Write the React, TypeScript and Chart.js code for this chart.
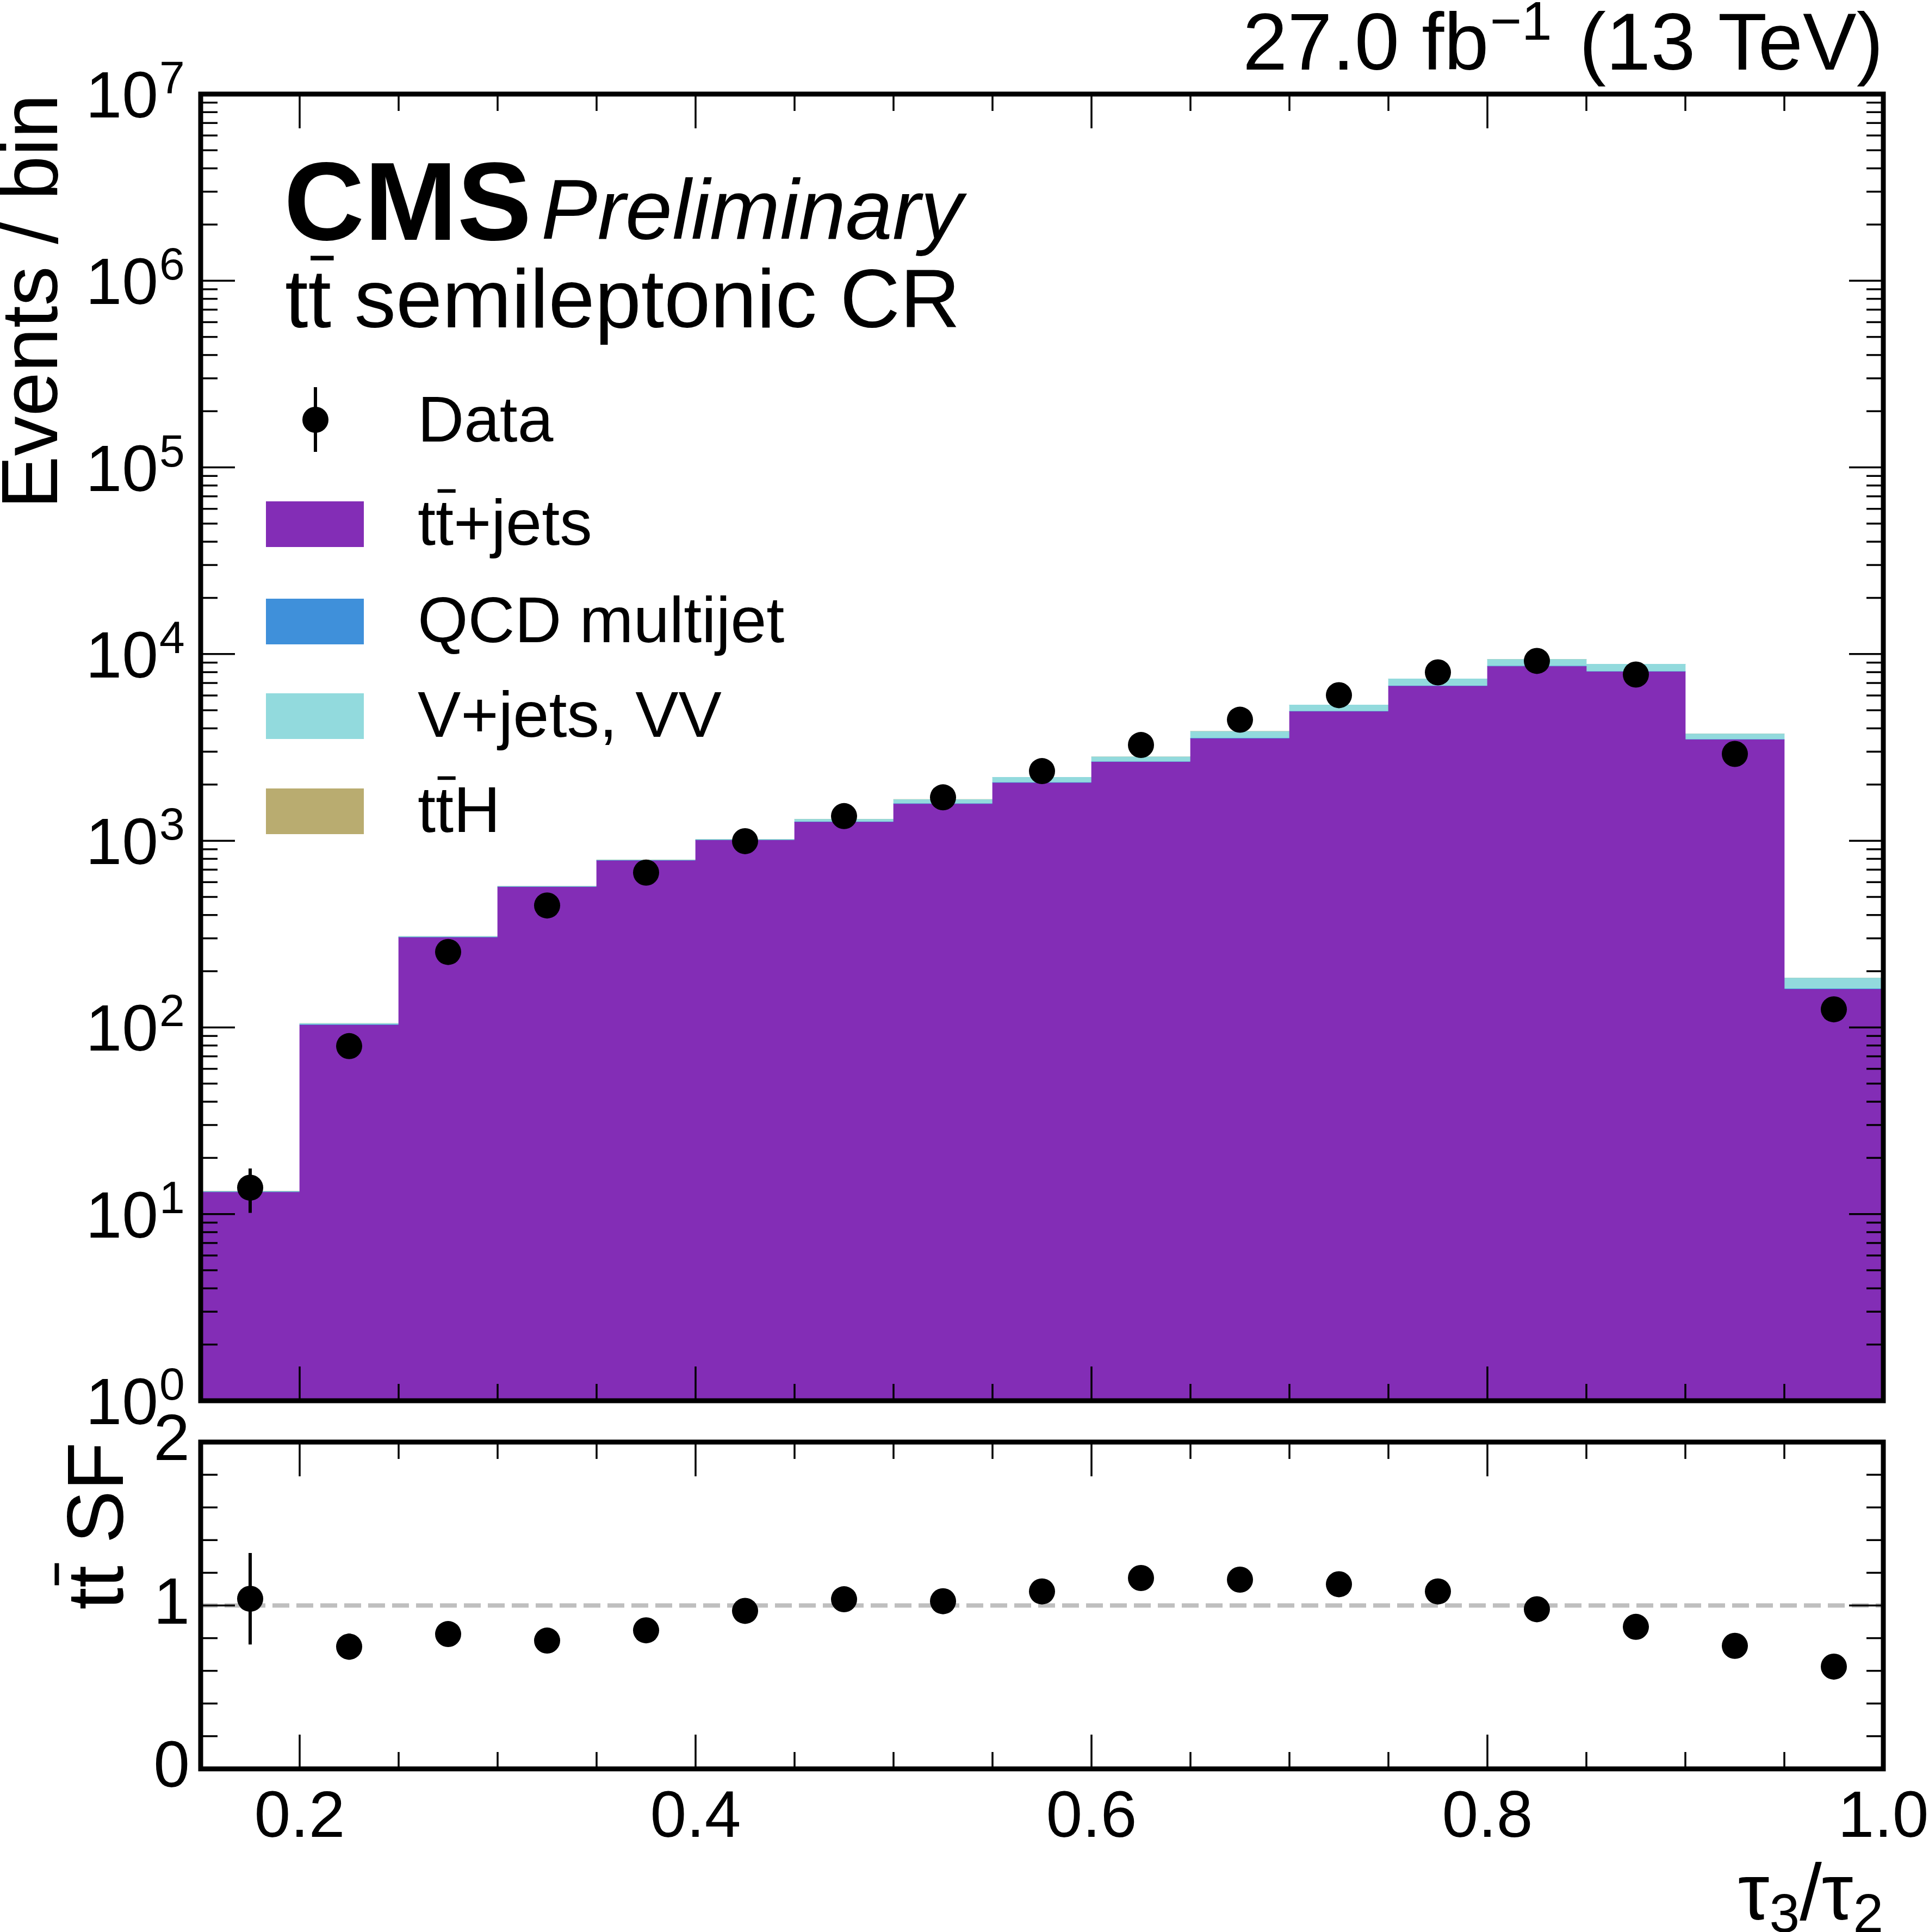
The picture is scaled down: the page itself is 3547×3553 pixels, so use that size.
import { useEffect, useRef } from 'react'
import { Chart, registerables, type ChartConfiguration, type Plugin } from 'chart.js'

Chart.register(...registerables)

const FONT = "'Liberation Sans', Arial, Helvetica, sans-serif"
Chart.defaults.font.family = FONT
Chart.defaults.color = '#000'

const W = 3547
const H = 3553

// tau3/tau2 bins, 0.15 .. 1.0 in steps of 0.05 (bin centres)
const binCenters = [0.175, 0.225, 0.275, 0.325, 0.375, 0.425, 0.475, 0.525, 0.575, 0.625, 0.675, 0.725, 0.775, 0.825, 0.875, 0.925, 0.975]

// stacked backgrounds, events / bin
const ttbarJets = [13.1, 103, 303, 565, 782, 1005, 1259, 1574, 2042, 2640, 3524, 4917, 6730, 8590, 8040, 3475, 160]
const qcdMultijet = [0.05, 0.4, 1, 2, 3, 4, 5, 7, 9, 12, 16, 22, 30, 38, 36, 16, 1]
const vJetsVV = [0.1, 1.6, 3, 3, 5, 9, 39, 83, 137, 161, 315, 401, 606, 748, 754, 249, 23]
const ttH = [0.02, 0.1, 0.3, 0.5, 0.7, 1, 1.2, 1.5, 2, 2.5, 3, 4, 5, 6, 6, 3, 0.2]

// observed data and its uncertainty
const dataCounts = [13.85, 79.4, 253.6, 450, 675, 995, 1355, 1708, 2361, 3258, 4450, 6025, 7980, 9190, 7770, 2917, 125]
const dataErrors = [3.7, 8.9, 15.9, 21.2, 26, 31.5, 36.8, 41.3, 48.6, 57.1, 66.7, 77.6, 89.3, 95.9, 88.1, 54, 11.2]

// ttbar scale factor (lower panel)
const scaleFactors = [1.041, 0.748, 0.825, 0.785, 0.848, 0.967, 1.038, 1.026, 1.086, 1.168, 1.158, 1.13, 1.086, 0.977, 0.869, 0.753, 0.626]
const scaleFactorErrors = [0.28, 0.08, 0.05, 0.04, 0.03, 0.03, 0.03, 0.03, 0.02, 0.02, 0.02, 0.02, 0.01, 0.01, 0.01, 0.02, 0.06]

// tick labels
const xTickLabels = [0.2, 0.4, 0.6, 0.8, 1.0]
const yDecades = [1, 10, 100, 1000, 10000, 100000, 1000000, 10000000]
const yExponents = ['0', '1', '2', '3', '4', '5', '6', '7']
const ratioTicks = [0, 1, 2]

const colors = {
  ttbar: '#832db6',
  qcd: '#3f90da',
  vjets: '#92dadd',
  tth: '#b9ac70',
}

const MAJOR = 63
const MINOR = 31

const pts = (values: number[]) => binCenters.map((x, i) => ({ x, y: values[i] }))

function seg(ctx: CanvasRenderingContext2D, x1: number, y1: number, x2: number, y2: number) {
  ctx.beginPath()
  ctx.moveTo(x1, y1)
  ctx.lineTo(x2, y2)
  ctx.stroke()
}

// minor x ticks every 0.05, skipping the labelled ones and the frame edges
function xMinorTicks() {
  const out: number[] = []
  for (let i = 4; i < 20; i++) {
    if (i % 4 !== 0) out.push(i * 0.05)
  }
  return out
}

function drawFrame(chart: Chart, yMajor: number[], yMinor: number[]) {
  const ctx = chart.ctx
  const { left, right, top, bottom } = chart.chartArea
  const xs = chart.scales.x
  const ys = chart.scales.y
  ctx.save()
  ctx.strokeStyle = '#000'
  ctx.lineWidth = 3.5
  for (const v of xTickLabels) {
    const p = xs.getPixelForValue(v)
    seg(ctx, p, bottom, p, bottom - MAJOR)
    seg(ctx, p, top, p, top + MAJOR)
  }
  for (const v of xMinorTicks()) {
    const p = xs.getPixelForValue(v)
    seg(ctx, p, bottom, p, bottom - MINOR)
    seg(ctx, p, top, p, top + MINOR)
  }
  for (const v of yMajor) {
    const p = ys.getPixelForValue(v)
    seg(ctx, left, p, left + MAJOR, p)
    seg(ctx, right, p, right - MAJOR, p)
  }
  for (const v of yMinor) {
    const p = ys.getPixelForValue(v)
    seg(ctx, left, p, left + MINOR, p)
    seg(ctx, right, p, right - MINOR, p)
  }
  ctx.lineWidth = 9
  ctx.strokeRect(left, top, right - left, bottom - top)
  ctx.restore()
}

function drawErrorBars(chart: Chart, datasetIndex: number, errors: number[]) {
  const ctx = chart.ctx
  const ys = chart.scales.y
  const meta = chart.getDatasetMeta(datasetIndex)
  const raw = chart.data.datasets[datasetIndex].data as { x: number; y: number }[]
  ctx.save()
  ctx.strokeStyle = '#000'
  ctx.lineWidth = 6
  meta.data.forEach((pt, i) => {
    const lo = ys.getPixelForValue(Math.max(raw[i].y - errors[i], 1e-9))
    const hi = ys.getPixelForValue(raw[i].y + errors[i])
    seg(ctx, pt.x, lo, pt.x, hi)
  })
  ctx.restore()
}

// "tt" with a bar over the second t
function drawTTbar(ctx: CanvasRenderingContext2D, x: number, baseline: number, size: number) {
  ctx.font = `${size}px ${FONT}`
  const wt = ctx.measureText('t').width
  ctx.fillRect(x + wt + 0.03 * size, baseline - 0.86 * size, wt, 0.055 * size)
}

function logMinor() {
  const out: number[] = []
  for (let d = 0; d < 7; d++) {
    for (let m = 2; m <= 9; m++) out.push(m * Math.pow(10, d))
  }
  return out
}

const mainDecor: Plugin = {
  id: 'mainDecor',
  afterDatasetsDraw(chart) {
    drawErrorBars(chart, 0, dataErrors)
  },
  afterDraw(chart) {
    const ctx = chart.ctx
    const ys = chart.scales.y
    drawFrame(chart, yDecades, logMinor())

    ctx.save()
    ctx.fillStyle = '#000'
    ctx.textBaseline = 'alphabetic'

    // y tick labels 10^n
    yDecades.forEach((v, i) => {
      const p = ys.getPixelForValue(v)
      ctx.font = `120px ${FONT}`
      ctx.textAlign = 'right'
      ctx.fillText('10', 291, p + 43)
      ctx.font = `84px ${FONT}`
      ctx.textAlign = 'left'
      ctx.fillText(yExponents[i], 293, p - 2)
    })

    // y title
    ctx.save()
    ctx.translate(105, chart.chartArea.top)
    ctx.rotate(-Math.PI / 2)
    ctx.font = `146px ${FONT}`
    ctx.textAlign = 'right'
    ctx.fillText('Events / bin', 0, 0)
    ctx.restore()

    // luminosity label
    const right = chart.chartArea.right
    ctx.textAlign = 'right'
    ctx.font = `148px ${FONT}`
    const wb = ctx.measureText('(13 TeV)').width
    ctx.fillText('(13 TeV)', right, 128)
    ctx.font = `100px ${FONT}`
    const supRight = right - wb - 50
    const wsup = ctx.measureText('\u22121').width
    ctx.fillText('\u22121', supRight, 73)
    ctx.font = `148px ${FONT}`
    ctx.fillText('27.0 fb', supRight - wsup - 2, 128)

    // CMS Preliminary
    ctx.textAlign = 'left'
    ctx.font = `bold 205px ${FONT}`
    ctx.fillText('CMS', 522, 441)
    ctx.font = `italic 155px ${FONT}`
    ctx.fillText('Preliminary', 995, 439)
    ctx.font = `153px ${FONT}`
    ctx.fillText('tt semileptonic CR', 524, 602)
    drawTTbar(ctx, 524, 602, 153)

    // legend
    const lx = 768
    ctx.font = `118px ${FONT}`
    ctx.fillText('Data', lx, 812)
    ctx.beginPath()
    ctx.arc(580, 772, 24, 0, Math.PI * 2)
    ctx.fill()
    ctx.strokeStyle = '#000'
    ctx.lineWidth = 6
    seg(ctx, 580, 712, 580, 831)

    const rows = [
      { label: 'tt+jets', color: colors.ttbar, base: 1002, bar: true },
      { label: 'QCD multijet', color: colors.qcd, base: 1181, bar: false },
      { label: 'V+jets, VV', color: colors.vjets, base: 1355, bar: false },
      { label: 'ttH', color: colors.tth, base: 1530, bar: true },
    ]
    for (const r of rows) {
      ctx.fillStyle = r.color
      ctx.fillRect(489, r.base - 80, 180, 84)
      ctx.fillStyle = '#000'
      ctx.font = `119px ${FONT}`
      ctx.fillText(r.label, lx, r.base)
      if (r.bar) drawTTbar(ctx, lx, r.base, 119)
    }
    ctx.restore()
  },
}

const ratioDecor: Plugin = {
  id: 'ratioDecor',
  afterDatasetsDraw(chart) {
    drawErrorBars(chart, 0, scaleFactorErrors)
  },
  afterDraw(chart) {
    const ctx = chart.ctx
    drawFrame(chart, ratioTicks, [0.2, 0.4, 0.6, 0.8, 1.2, 1.4, 1.6, 1.8])
    const { right, top } = chart.chartArea

    ctx.save()
    ctx.fillStyle = '#000'
    ctx.textBaseline = 'alphabetic'

    // y title
    ctx.save()
    ctx.translate(226, top)
    ctx.rotate(-Math.PI / 2)
    ctx.font = `146px ${FONT}`
    ctx.textAlign = 'left'
    const w = ctx.measureText('tt SF').width
    ctx.fillText('tt SF', -w, 0)
    drawTTbar(ctx, -w, 0, 146)
    ctx.restore()

    // x title tau3/tau2
    const parts: [string, number, number][] = [
      ['\u03c4', 146, 3530],
      ['3', 100, 3553],
      ['/', 146, 3530],
      ['\u03c4', 146, 3530],
      ['2', 100, 3553],
    ]
    let total = 0
    for (const [t, s] of parts) {
      ctx.font = `${s}px ${FONT}`
      total += ctx.measureText(t).width
    }
    let x = right - total
    ctx.textAlign = 'left'
    for (const [t, s, b] of parts) {
      ctx.font = `${s}px ${FONT}`
      ctx.fillText(t, x, b)
      x += ctx.measureText(t).width
    }
    ctx.restore()
  },
}

function mainConfig(): ChartConfiguration {
  return {
    type: 'bar',
    data: {
      datasets: [
        {
          type: 'line',
          label: 'Data',
          data: pts(dataCounts),
          showLine: false,
          pointRadius: 24,
          pointHoverRadius: 24,
          pointBackgroundColor: '#000',
          pointBorderWidth: 0,
          borderColor: '#000',
          stack: 'data',
          order: 0,
        },
        { type: 'bar', label: 'tt+jets', data: pts(ttbarJets), backgroundColor: colors.ttbar, stack: 'mc', order: 1 },
        { type: 'bar', label: 'QCD multijet', data: pts(qcdMultijet), backgroundColor: colors.qcd, stack: 'mc', order: 1 },
        { type: 'bar', label: 'V+jets, VV', data: pts(vJetsVV), backgroundColor: colors.vjets, stack: 'mc', order: 1 },
        { type: 'bar', label: 'ttH', data: pts(ttH), backgroundColor: colors.tth, stack: 'mc', order: 1 },
      ],
    } as any,
    options: {
      responsive: false,
      animation: false,
      devicePixelRatio: 1,
      events: [],
      layout: { padding: { left: 369, top: 173, right: W - 3463, bottom: H - 2576 } },
      plugins: { legend: { display: false }, tooltip: { enabled: false } },
      datasets: { bar: { barPercentage: 1, categoryPercentage: 1, borderWidth: 0 } },
      scales: {
        x: { type: 'linear', min: 0.15, max: 1.0, offset: false, stacked: true, display: false },
        y: { type: 'logarithmic', min: 1, max: 1e7, stacked: true, display: false },
      },
    } as any,
    plugins: [mainDecor],
  }
}

function ratioConfig(): ChartConfiguration {
  return {
    type: 'line',
    data: {
      datasets: [
        {
          label: 'ttbar SF',
          data: pts(scaleFactors),
          showLine: false,
          pointRadius: 24,
          pointHoverRadius: 24,
          pointBackgroundColor: '#000',
          pointBorderWidth: 0,
          borderColor: '#000',
          order: 0,
        },
        {
          label: 'unity',
          data: [
            { x: 0.15, y: 1 },
            { x: 1.0, y: 1 },
          ],
          borderColor: '#bfbfbf',
          borderWidth: 8,
          borderDash: [31, 13],
          pointRadius: 0,
          order: 1,
        },
      ],
    } as any,
    options: {
      responsive: false,
      animation: false,
      devicePixelRatio: 1,
      events: [],
      layout: { padding: { left: 0, top: 2652, right: W - 3463, bottom: 0 } },
      plugins: { legend: { display: false }, tooltip: { enabled: false } },
      scales: {
        x: {
          type: 'linear',
          min: 0.15,
          max: 1.0,
          offset: false,
          grid: { display: false, drawTicks: false },
          border: { display: false },
          ticks: {
            font: { size: 120, family: FONT },
            color: '#000',
            padding: 20,
            maxRotation: 0,
            autoSkip: false,
            callback: (v: any) => Number(v).toFixed(1),
          },
          afterBuildTicks: (s: any) => {
            s.ticks = xTickLabels.map((value) => ({ value }))
          },
          afterFit: (s: any) => {
            s.height = H - 3253
            s.paddingLeft = 0
            s.paddingRight = 0
          },
        },
        y: {
          type: 'linear',
          min: 0,
          max: 2,
          grid: { display: false, drawTicks: false },
          border: { display: false },
          ticks: {
            font: { size: 120, family: FONT },
            color: '#000',
            padding: 20,
            autoSkip: false,
            callback: (v: any) => String(v),
          },
          afterBuildTicks: (s: any) => {
            s.ticks = ratioTicks.map((value) => ({ value }))
          },
          afterFit: (s: any) => {
            s.width = 369
            s.paddingTop = 0
            s.paddingBottom = 0
          },
        },
      },
    } as any,
    plugins: [ratioDecor],
  }
}

export default function App() {
  const mainRef = useRef<HTMLCanvasElement | null>(null)
  const ratioRef = useRef<HTMLCanvasElement | null>(null)

  useEffect(() => {
    if (!mainRef.current || !ratioRef.current) {
      return
    }
    const main = new Chart(mainRef.current, mainConfig())
    const ratio = new Chart(ratioRef.current, ratioConfig())
    return () => {
      main.destroy()
      ratio.destroy()
    }
  }, [])

  const canvasStyle = { position: 'absolute' as const, left: 0, top: 0, width: W, height: H }

  return (
    <div style={{ position: 'absolute', left: 0, top: 0, width: W, height: H, background: '#fff' }}>
      <canvas ref={mainRef} width={W} height={H} style={canvasStyle} aria-label="tau3/tau2 distribution" />
      <canvas ref={ratioRef} width={W} height={H} style={canvasStyle} aria-label="ttbar scale factor" />
    </div>
  )
}
